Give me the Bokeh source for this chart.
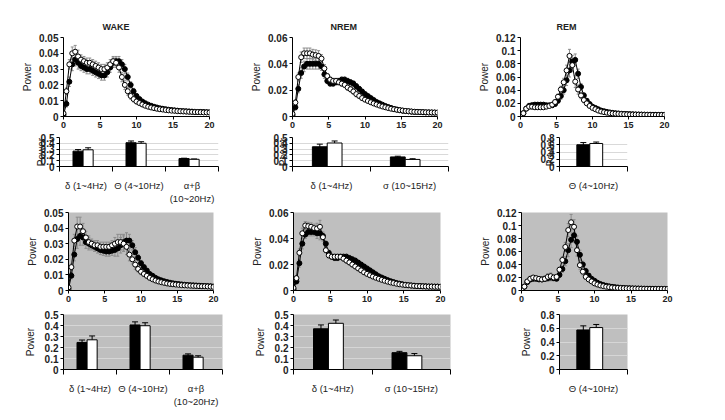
from bokeh.plotting import figure
from bokeh.layouts import column, row
from bokeh.models import (ColumnDataSource, Range1d, FixedTicker, NumeralTickFormatter,
                          Whisker, TeeHead, Title)
from bokeh.embed import file_html
from bokeh.resources import INLINE

# ---------------- data ----------------
FREQ = [0.0, 0.4, 0.8, 1.2, 1.6, 2.0, 2.4, 2.8, 3.2, 3.6, 4.0, 4.4, 4.8, 5.2, 5.6, 6.0,
        6.4, 6.8, 7.2, 7.6, 8.0, 8.4, 8.8, 9.2, 9.6, 10.0, 10.4, 10.8, 11.2, 11.6, 12.0,
        12.4, 12.8, 13.2, 13.6, 14.0, 14.4, 14.8, 15.2, 15.6, 16.0, 16.4, 16.8, 17.2,
        17.6, 18.0, 18.4, 18.8, 19.2, 19.6, 20.0]
FREQ_TICKS = [0, 5, 10, 15, 20]

# top row (white background)
WAKE1_W = [0.002, 0.016, 0.033, 0.040, 0.041, 0.038, 0.036, 0.035, 0.034, 0.034,
           0.033, 0.032, 0.031, 0.030, 0.030, 0.031, 0.033, 0.035, 0.034, 0.031,
           0.025, 0.020, 0.016, 0.013, 0.011, 0.0095, 0.0085, 0.0076, 0.0068, 0.0062,
           0.0057, 0.0053, 0.0049, 0.0046, 0.0044, 0.0041, 0.0039, 0.0037, 0.0036, 0.0034,
           0.0033, 0.0032, 0.0031, 0.0030, 0.0029, 0.0028, 0.0028, 0.0027, 0.0026, 0.0026, 0.0025]
WAKE1_B = [0.001, 0.008, 0.022, 0.033, 0.036, 0.034, 0.032, 0.031, 0.030, 0.030,
           0.029, 0.028, 0.027, 0.026, 0.026, 0.028, 0.031, 0.034, 0.035, 0.035,
           0.033, 0.030, 0.025, 0.020, 0.016, 0.013, 0.011, 0.0095, 0.0084, 0.0075,
           0.0068, 0.0062, 0.0057, 0.0052, 0.0049, 0.0046, 0.0043, 0.0041, 0.0039, 0.0037,
           0.0035, 0.0034, 0.0033, 0.0032, 0.0031, 0.0030, 0.0029, 0.0029, 0.0028, 0.0027, 0.0027]
WAKE1_SEM = [0.0005, 0.002, 0.003, 0.004, 0.004, 0.004, 0.003, 0.003, 0.003, 0.003,
             0.003, 0.003, 0.003, 0.003, 0.003, 0.003, 0.003, 0.003, 0.003, 0.003,
             0.003, 0.003, 0.0025, 0.002, 0.0018, 0.0015, 0.0012, 0.001, 0.0009, 0.0008,
             0.0007, 0.0007, 0.0006, 0.0006, 0.0005, 0.0005, 0.0005, 0.0005, 0.0004, 0.0004,
             0.0004, 0.0004, 0.0004, 0.0004, 0.0004, 0.0004, 0.0003, 0.0003, 0.0003, 0.0003, 0.0003]

NREM1_W = [0.002, 0.0106, 0.030, 0.045, 0.048, 0.048, 0.048, 0.047, 0.0466, 0.046,
           0.044, 0.0365, 0.0307, 0.028, 0.027, 0.027, 0.026, 0.025, 0.024, 0.022,
           0.0207, 0.019, 0.017, 0.0156, 0.014, 0.0128, 0.0118, 0.0108, 0.0099, 0.0091,
           0.0083, 0.0076, 0.0070, 0.0064, 0.0059, 0.0055, 0.0051, 0.0048, 0.0045, 0.0042,
           0.0040, 0.0038, 0.0036, 0.0035, 0.0034, 0.0033, 0.0032, 0.0031, 0.0031, 0.0030, 0.0030]
NREM1_B = [0.001, 0.007, 0.021, 0.033, 0.038, 0.040, 0.040, 0.040, 0.040, 0.040,
           0.038, 0.032, 0.027, 0.025, 0.025, 0.026, 0.027, 0.028, 0.028, 0.027,
           0.026, 0.025, 0.023, 0.021, 0.019, 0.017, 0.0155, 0.014, 0.0125, 0.011,
           0.010, 0.009, 0.008, 0.0072, 0.0065, 0.0058, 0.0053, 0.0048, 0.0044, 0.0041,
           0.0039, 0.0037, 0.0035, 0.0034, 0.0033, 0.0032, 0.0031, 0.0031, 0.0030, 0.0030, 0.0029]
NREM1_SEM = [0.0005, 0.002, 0.003, 0.004, 0.004, 0.004, 0.004, 0.004, 0.004, 0.004,
             0.003, 0.003, 0.002, 0.002, 0.002, 0.002, 0.002, 0.002, 0.002, 0.002,
             0.002, 0.002, 0.002, 0.0018, 0.0016, 0.0015, 0.0013, 0.0012, 0.001, 0.001,
             0.0009, 0.0008, 0.0007, 0.0007, 0.0006, 0.0006, 0.0005, 0.0005, 0.0005, 0.0004,
             0.0004, 0.0004, 0.0004, 0.0004, 0.0003, 0.0003, 0.0003, 0.0003, 0.0003, 0.0003, 0.0003]

REM1_W = [0.001, 0.005, 0.012, 0.015, 0.015, 0.014, 0.014, 0.014, 0.014, 0.015,
          0.016, 0.018, 0.022, 0.030, 0.041, 0.052, 0.070, 0.092, 0.078, 0.053,
          0.041, 0.032, 0.025, 0.020, 0.016, 0.013, 0.011, 0.009, 0.0076, 0.0066,
          0.0058, 0.0052, 0.0047, 0.0043, 0.0040, 0.0037, 0.0035, 0.0033, 0.0031, 0.0030,
          0.0029, 0.0028, 0.0027, 0.0026, 0.0025, 0.0025, 0.0024, 0.0024, 0.0023, 0.0023, 0.0023]
REM1_B = [0.001, 0.005, 0.012, 0.016, 0.017, 0.018, 0.018, 0.018, 0.018, 0.017,
          0.017, 0.017, 0.019, 0.024, 0.031, 0.040, 0.055, 0.070, 0.083, 0.086,
          0.065, 0.045, 0.032, 0.024, 0.019, 0.015, 0.013, 0.011, 0.009, 0.008,
          0.007, 0.0062, 0.0055, 0.0050, 0.0046, 0.0042, 0.0039, 0.0037, 0.0035, 0.0033,
          0.0031, 0.0030, 0.0029, 0.0028, 0.0027, 0.0027, 0.0026, 0.0026, 0.0025, 0.0025, 0.0025]
REM1_SEM = [0.0005, 0.002, 0.003, 0.004, 0.004, 0.003, 0.003, 0.003, 0.003, 0.003,
            0.003, 0.003, 0.003, 0.004, 0.005, 0.006, 0.008, 0.010, 0.010, 0.009,
            0.007, 0.005, 0.004, 0.003, 0.0025, 0.002, 0.0018, 0.0015, 0.0012, 0.001,
            0.0009, 0.0008, 0.0007, 0.0007, 0.0006, 0.0006, 0.0005, 0.0005, 0.0005, 0.0004,
            0.0004, 0.0004, 0.0004, 0.0004, 0.0003, 0.0003, 0.0003, 0.0003, 0.0003, 0.0003, 0.0003]

# second row (grey background)
WAKE2_W = [0.002, 0.015, 0.032, 0.041, 0.041, 0.038, 0.034, 0.031, 0.030, 0.029,
           0.029, 0.028, 0.028, 0.028, 0.028, 0.029, 0.030, 0.031, 0.031, 0.030,
           0.028, 0.023, 0.020, 0.0166, 0.0138, 0.012, 0.0106, 0.0094, 0.0081, 0.0072,
           0.0064, 0.0058, 0.0053, 0.0049, 0.0045, 0.0042, 0.0040, 0.0038, 0.0036, 0.0034,
           0.0033, 0.0032, 0.0031, 0.0030, 0.0029, 0.0028, 0.0027, 0.0027, 0.0026, 0.0025, 0.0023]
WAKE2_B = [0.001, 0.0095, 0.023, 0.033, 0.035, 0.034, 0.031, 0.030, 0.029, 0.028,
           0.027, 0.026, 0.0255, 0.025, 0.025, 0.0255, 0.026, 0.027, 0.029, 0.031,
           0.032, 0.032, 0.029, 0.0245, 0.021, 0.0175, 0.015, 0.0128, 0.0106, 0.0094,
           0.0081, 0.0072, 0.0065, 0.0059, 0.0054, 0.0050, 0.0046, 0.0043, 0.0041, 0.0039,
           0.0037, 0.0035, 0.0034, 0.0033, 0.0032, 0.0031, 0.0030, 0.0029, 0.0028, 0.0027, 0.0026]
WAKE2_SEM = [0.0005, 0.002, 0.004, 0.006, 0.006, 0.005, 0.004, 0.004, 0.003, 0.003,
             0.003, 0.003, 0.003, 0.003, 0.003, 0.003, 0.004, 0.005, 0.005, 0.005,
             0.005, 0.004, 0.003, 0.003, 0.002, 0.0018, 0.0015, 0.0012, 0.001, 0.0009,
             0.0008, 0.0007, 0.0007, 0.0006, 0.0006, 0.0005, 0.0005, 0.0005, 0.0004, 0.0004,
             0.0004, 0.0004, 0.0004, 0.0004, 0.0003, 0.0003, 0.0003, 0.0003, 0.0003, 0.0003, 0.0003]

NREM2_W = [0.002, 0.0095, 0.029, 0.044, 0.050, 0.0495, 0.049, 0.048, 0.0477, 0.049,
           0.041, 0.031, 0.027, 0.026, 0.026, 0.026, 0.0258, 0.0245, 0.023, 0.0216,
           0.020, 0.0185, 0.017, 0.0155, 0.014, 0.0128, 0.0117, 0.0107, 0.0098, 0.009,
           0.0082, 0.0075, 0.0068, 0.0062, 0.0057, 0.0052, 0.0048, 0.0045, 0.0042, 0.0040,
           0.0038, 0.0036, 0.0034, 0.0033, 0.0032, 0.0031, 0.0030, 0.0030, 0.0029, 0.0029, 0.0028]
NREM2_B = [0.001, 0.007, 0.021, 0.036, 0.043, 0.045, 0.045, 0.045, 0.044, 0.044,
           0.042, 0.036, 0.029, 0.026, 0.025, 0.025, 0.026, 0.026, 0.026, 0.025,
           0.024, 0.023, 0.0215, 0.020, 0.0185, 0.017, 0.0155, 0.014, 0.0125, 0.011,
           0.010, 0.009, 0.008, 0.0072, 0.0065, 0.0058, 0.0053, 0.0048, 0.0044, 0.0041,
           0.0039, 0.0037, 0.0035, 0.0034, 0.0033, 0.0032, 0.0031, 0.0031, 0.0030, 0.0030, 0.0029]
NREM2_SEM = [0.0005, 0.002, 0.003, 0.004, 0.003, 0.003, 0.003, 0.003, 0.004, 0.005,
             0.003, 0.002, 0.002, 0.002, 0.002, 0.002, 0.002, 0.002, 0.002, 0.002,
             0.002, 0.002, 0.0018, 0.0016, 0.0015, 0.0013, 0.0012, 0.001, 0.001, 0.0009,
             0.0008, 0.0007, 0.0007, 0.0006, 0.0006, 0.0005, 0.0005, 0.0005, 0.0004, 0.0004,
             0.0004, 0.0004, 0.0004, 0.0004, 0.0003, 0.0003, 0.0003, 0.0003, 0.0003, 0.0003, 0.0003]

REM2_W = [0.001, 0.006, 0.014, 0.018, 0.020, 0.019, 0.018, 0.017, 0.018, 0.021,
          0.022, 0.020, 0.021, 0.032, 0.047, 0.067, 0.093, 0.105, 0.098, 0.062,
          0.039, 0.029, 0.021, 0.017, 0.014, 0.011, 0.0092, 0.0078, 0.0067, 0.0058,
          0.0052, 0.0047, 0.0043, 0.0040, 0.0037, 0.0035, 0.0033, 0.0031, 0.0030, 0.0029,
          0.0028, 0.0027, 0.0026, 0.0026, 0.0025, 0.0025, 0.0024, 0.0024, 0.0024, 0.0023, 0.0023]
REM2_B = [0.001, 0.006, 0.013, 0.017, 0.018, 0.018, 0.017, 0.017, 0.018, 0.019,
          0.020, 0.019, 0.018, 0.024, 0.033, 0.045, 0.062, 0.078, 0.085, 0.075,
          0.055, 0.040, 0.030, 0.023, 0.018, 0.015, 0.012, 0.010, 0.0085, 0.0073,
          0.0064, 0.0057, 0.0051, 0.0046, 0.0042, 0.0039, 0.0036, 0.0034, 0.0032, 0.0031,
          0.0030, 0.0029, 0.0028, 0.0027, 0.0027, 0.0026, 0.0026, 0.0025, 0.0025, 0.0025, 0.0024]
REM2_SEM = [0.0005, 0.002, 0.003, 0.004, 0.003, 0.003, 0.003, 0.003, 0.004, 0.005,
            0.005, 0.004, 0.003, 0.004, 0.005, 0.007, 0.010, 0.012, 0.011, 0.009,
            0.007, 0.005, 0.004, 0.003, 0.0025, 0.002, 0.0018, 0.0015, 0.0012, 0.001,
            0.0009, 0.0008, 0.0007, 0.0007, 0.0006, 0.0006, 0.0005, 0.0005, 0.0005, 0.0004,
            0.0004, 0.0004, 0.0004, 0.0004, 0.0003, 0.0003, 0.0003, 0.0003, 0.0003, 0.0003, 0.0003]

WAKE_YTICKS = [0, 0.01, 0.02, 0.03, 0.04, 0.05]
NREM_YTICKS = [0, 0.02, 0.04, 0.06]
REM_YTICKS = [0, 0.02, 0.04, 0.06, 0.08, 0.1, 0.12]

# band bar charts
WAKE_BANDS = ["δ (1~4Hz)", "Θ (4~10Hz)", "α+β\n(10~20Hz)"]
NREM_BANDS = ["δ (1~4Hz)", "σ (10~15Hz)"]
REM_BANDS = ["Θ (4~10Hz)"]
BAR_TICKS_05 = [0, 0.1, 0.2, 0.3, 0.4, 0.5]
BAR_TICKS_08 = [0, 0.2, 0.4, 0.6, 0.8]

WAKE1_BAR_B = [0.265, 0.41, 0.137]
WAKE1_BAR_B_ERR = [0.027, 0.03, 0.006]
WAKE1_BAR_W = [0.288, 0.40, 0.124]
WAKE1_BAR_W_ERR = [0.035, 0.027, 0.006]
NREM1_BAR_B = [0.34, 0.165]
NREM1_BAR_B_ERR = [0.045, 0.012]
NREM1_BAR_W = [0.405, 0.122]
NREM1_BAR_W_ERR = [0.035, 0.012]
REM1_BAR_B = [0.60]
REM1_BAR_B_ERR = [0.06]
REM1_BAR_W = [0.635]
REM1_BAR_W_ERR = [0.04]

WAKE2_BAR_B = [0.246, 0.405, 0.13]
WAKE2_BAR_B_ERR = [0.022, 0.028, 0.012]
WAKE2_BAR_W = [0.27, 0.398, 0.112]
WAKE2_BAR_W_ERR = [0.035, 0.027, 0.013]
NREM2_BAR_B = [0.37, 0.153]
NREM2_BAR_B_ERR = [0.035, 0.012]
NREM2_BAR_W = [0.42, 0.125]
NREM2_BAR_W_ERR = [0.03, 0.02]
REM2_BAR_B = [0.575]
REM2_BAR_B_ERR = [0.06]
REM2_BAR_W = [0.61]
REM2_BAR_W_ERR = [0.045]

for arr in [WAKE1_W, WAKE1_B, WAKE1_SEM, NREM1_W, NREM1_B, NREM1_SEM, REM1_W, REM1_B, REM1_SEM,
            WAKE2_W, WAKE2_B, WAKE2_SEM, NREM2_W, NREM2_B, NREM2_SEM, REM2_W, REM2_B, REM2_SEM]:
    assert len(arr) == len(FREQ), len(arr)

# ---------------- style ----------------
FONT = "Liberation Sans"
TXT = "#222222"
GREY = "#bfbfbf"


def base_fig(w, h, left, right, top, bottom, bg):
    p = figure(width=w, height=h, output_backend="svg", toolbar_location=None, title=None,
               min_border_left=left, min_border_right=right,
               min_border_top=top, min_border_bottom=bottom,
               background_fill_color=bg, border_fill_color="white",
               outline_line_color=None)
    for ax in (p.xaxis[0], p.yaxis[0]):
        ax.axis_line_color = "black"
        ax.axis_line_width = 1
        ax.major_tick_line_color = "black"
        ax.major_tick_out = 3
        ax.major_tick_in = 0
        ax.minor_tick_line_color = None
        ax.major_label_text_font = FONT
        ax.major_label_text_font_size = "9px"
        ax.major_label_text_font_style = "bold"
        ax.major_label_text_color = TXT
        ax.major_label_standoff = 2
    p.yaxis.major_label_text_font_size = "10px"
    p.yaxis.axis_label = "Power"
    p.yaxis.axis_label_text_font = FONT
    p.yaxis.axis_label_text_font_size = "10px"
    p.yaxis.axis_label_text_font_style = "normal"
    p.yaxis.axis_label_text_color = TXT
    p.yaxis.axis_label_standoff = 3
    p.xgrid.grid_line_color = None
    p.ygrid.grid_line_color = None
    return p


def line_panel(w, h, borders, bg, yticks, black, white, sem, title=None, title_offset=0):
    left, right, top, bottom = borders
    p = base_fig(w, h, left, right, top, bottom, bg)
    p.x_range = Range1d(0, 20)
    p.y_range = Range1d(0, yticks[-1])
    p.xaxis.ticker = FixedTicker(ticks=FREQ_TICKS)
    p.yaxis.ticker = FixedTicker(ticks=yticks)
    p.yaxis.formatter = NumeralTickFormatter(format="0.[00]")
    src = ColumnDataSource(dict(
        f=FREQ, b=black, w=white,
        bl=[v - s for v, s in zip(black, sem)], bu=[v + s for v, s in zip(black, sem)],
        wl=[v - s for v, s in zip(white, sem)], wu=[v + s for v, s in zip(white, sem)]))
    for lo, hi in (("bl", "bu"), ("wl", "wu")):
        wk = Whisker(source=src, base="f", lower=lo, upper=hi, level="underlay",
                     line_color="#8c8c8c", line_width=1,
                     upper_head=TeeHead(size=3, line_color="#8c8c8c", line_width=1),
                     lower_head=TeeHead(size=3, line_color="#8c8c8c", line_width=1))
        p.add_layout(wk)
    p.line("f", "b", source=src, line_color="black", line_width=1)
    p.scatter("f", "b", source=src, size=5, fill_color="black", line_color="black")
    p.line("f", "w", source=src, line_color="black", line_width=1)
    p.scatter("f", "w", source=src, size=5, fill_color="white", line_color="black", line_width=1)
    if title:
        t = Title(text=title, align="left", offset=title_offset, text_font=FONT,
                  text_font_size="9px", text_font_style="bold", text_color=TXT, standoff=12)
        p.add_layout(t, "above")
    return p


def bar_panel(w, h, borders, bg, grid, yticks, bands, bv, be, wv, we, label_standoff):
    left, right, top, bottom = borders
    p = base_fig(w, h, left, right, top, bottom, bg)
    n = len(bands)
    p.x_range = Range1d(-0.5, n - 0.5)
    p.y_range = Range1d(0, yticks[-1])
    xb = [i - 0.15 for i in range(n)]
    xw = [i + 0.04 for i in range(n)]
    p.vbar(x=xb, top=bv, width=0.19, fill_color="black", line_color="black", line_width=1)
    p.vbar(x=xw, top=wv, width=0.19, fill_color="white", line_color="black", line_width=1)
    for xs, v, e in ((xb, bv, be), (xw, wv, we)):
        src = ColumnDataSource(dict(x=xs, lo=[a - b for a, b in zip(v, e)],
                                    hi=[a + b for a, b in zip(v, e)]))
        p.add_layout(Whisker(source=src, base="x", lower="lo", upper="hi",
                             line_color="black", line_width=1,
                             upper_head=TeeHead(size=6, line_color="black", line_width=1),
                             lower_head=TeeHead(size=6, line_color="black", line_width=1)))
    p.xaxis.ticker = FixedTicker(ticks=list(range(n)),
                                 minor_ticks=[i - 0.5 for i in range(n + 1)])
    p.xaxis.major_label_overrides = {i: bands[i] for i in range(n)}
    p.xaxis.major_tick_line_color = None
    p.xaxis.major_tick_out = 0
    p.xaxis.minor_tick_line_color = "black"
    p.xaxis.minor_tick_out = 5
    p.xaxis.minor_tick_in = 0
    p.xaxis.major_label_standoff = 8
    p.xaxis.major_label_text_font_style = "normal"
    p.xaxis.major_label_text_font_size = "9.5px"
    p.yaxis.ticker = FixedTicker(ticks=yticks)
    p.yaxis.formatter = NumeralTickFormatter(format="0.[0]")
    p.yaxis.axis_label_standoff = label_standoff
    p.ygrid.grid_line_color = grid
    p.ygrid.grid_line_width = 1
    return p


# page has no margin offset in practice: first column / first row carry the 8px
C1, C2, C3 = 238, 236, 243
H1, H2, H3, H4 = 131, 75, 103, 100

l1a = line_panel(C1, H1, (63, 29, 37, 15), "white", WAKE_YTICKS, WAKE1_B, WAKE1_W, WAKE1_SEM, "WAKE", 39)
l1b = line_panel(C2, H1, (54, 37, 37, 15), "white", NREM_YTICKS, NREM1_B, NREM1_W, NREM1_SEM, "NREM", 38)
l1c = line_panel(C3, H1, (46, 53, 37, 15), "white", REM_YTICKS, REM1_B, REM1_W, REM1_SEM, "REM", 36)

b1a = bar_panel(C1, H2, (59, 20, 5, 33), "white", "#d9d9d9", BAR_TICKS_05, WAKE_BANDS,
                WAKE1_BAR_B, WAKE1_BAR_B_ERR, WAKE1_BAR_W, WAKE1_BAR_W_ERR, -9)
b1b = bar_panel(C2, H2, (54, 26, 6, 23), "white", "#d9d9d9", BAR_TICKS_05, NREM_BANDS,
                NREM1_BAR_B, NREM1_BAR_B_ERR, NREM1_BAR_W, NREM1_BAR_W_ERR, -18)
b1c = bar_panel(C3, H2, (85, 90, 6, 23), "white", "#d9d9d9", BAR_TICKS_08, REM_BANDS,
                REM1_BAR_B, REM1_BAR_B_ERR, REM1_BAR_W, REM1_BAR_W_ERR, -18)

l2a = line_panel(C1, H3, (68, 25, 6, 19), GREY, WAKE_YTICKS, WAKE2_B, WAKE2_W, WAKE2_SEM)
l2b = line_panel(C2, H3, (55, 34, 6, 19), GREY, NREM_YTICKS, NREM2_B, NREM2_W, NREM2_SEM)
l2c = line_panel(C3, H3, (47, 50, 6, 19), GREY, REM_YTICKS, REM2_B, REM2_W, REM2_SEM)

b2a = bar_panel(C1, H4, (63, 16, 5, 37), GREY, "#d6d6d6", BAR_TICKS_05, WAKE_BANDS,
                WAKE2_BAR_B, WAKE2_BAR_B_ERR, WAKE2_BAR_W, WAKE2_BAR_W_ERR, 6)
b2b = bar_panel(C2, H4, (55, 24, 5, 24), GREY, "#d6d6d6", BAR_TICKS_05, NREM_BANDS,
                NREM2_BAR_B, NREM2_BAR_B_ERR, NREM2_BAR_W, NREM2_BAR_W_ERR, 6)
b2c = bar_panel(C3, H4, (85, 90, 5, 24), GREY, "#d6d6d6", BAR_TICKS_08, REM_BANDS,
                REM2_BAR_B, REM2_BAR_B_ERR, REM2_BAR_W, REM2_BAR_W_ERR, 6)

layout = column(row(l1a, l1b, l1c), row(b1a, b1b, b1c), row(l2a, l2b, l2c), row(b2a, b2b, b2c))

open("out.html", "w").write(file_html(layout, INLINE))
